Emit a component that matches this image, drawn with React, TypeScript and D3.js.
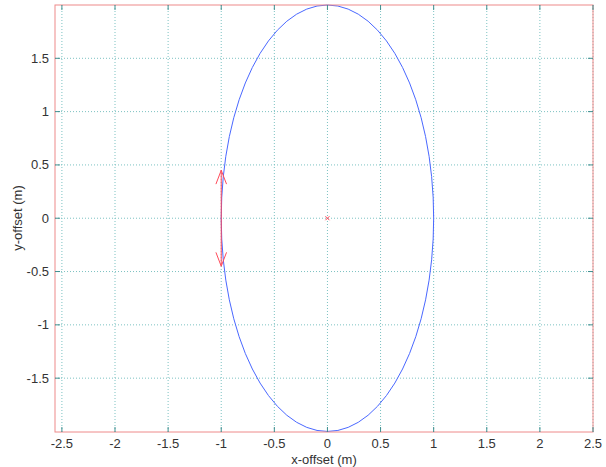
import React, {useEffect, useRef} from 'react'
import * as d3 from 'd3'

const xTicks = [-2.5, -2, -1.5, -1, -0.5, 0, 0.5, 1, 1.5, 2, 2.5]
const yTicks = [-1.5, -1, -0.5, 0, 0.5, 1, 1.5]
const xDomain = [-2.565, 2.5]
const yDomain = [-2.005, 2.0]

// ellipse: centre, semi-axes
const ellipseCenter = [0, 0]
const ellipseRadii = [1, 2]

// quiver arrows [x0, y0, x1, y1]
const arrows = [
  [-1, 0, -1, 0.45],
  [-1, 0, -1, -0.45],
]
const centreMark = [0, 0]

export default function App() {
  const ref = useRef<SVGSVGElement>(null)

  useEffect(() => {
    const width = 606
    const height = 467
    const left = 55
    const right = 593
    const top = 5
    const bottom = 432

    const svg = d3.select(ref.current)
    svg.selectAll('*').remove()
    svg.attr('width', width).attr('height', height)

    const x = d3.scaleLinear().domain(xDomain).range([left, right])
    const y = d3.scaleLinear().domain(yDomain).range([bottom, top])

    const g = svg.append('g')

    // grid
    g.selectAll('line.vgrid')
      .data(xTicks)
      .enter()
      .append('line')
      .attr('class', 'vgrid')
      .attr('x1', (d) => x(d))
      .attr('x2', (d) => x(d))
      .attr('y1', top)
      .attr('y2', bottom)
      .attr('stroke', '#7cc2c2')
      .attr('stroke-width', 1)
      .attr('stroke-dasharray', '1,2')
    g.selectAll('line.hgrid')
      .data(yTicks)
      .enter()
      .append('line')
      .attr('class', 'hgrid')
      .attr('x1', left)
      .attr('x2', right)
      .attr('y1', (d) => y(d))
      .attr('y2', (d) => y(d))
      .attr('stroke', '#7cc2c2')
      .attr('stroke-width', 1)
      .attr('stroke-dasharray', '1,2')

    // ellipse
    g.append('ellipse')
      .attr('cx', x(ellipseCenter[0]))
      .attr('cy', y(ellipseCenter[1]))
      .attr('rx', x(ellipseRadii[0]) - x(0))
      .attr('ry', y(0) - y(ellipseRadii[1]))
      .attr('fill', 'none')
      .attr('stroke', '#4a68ff')
      .attr('stroke-width', 1)

    // arrows
    const headLen = 0.13
    const headW = 0.05
    arrows.forEach(([x0, y0, x1, y1]) => {
      const dir = Math.sign(y1 - y0)
      const line = d3.line<number[]>()
        .x((p) => x(p[0]))
        .y((p) => y(p[1]))
      g.append('path')
        .attr('d', line([[x0, y0], [x1, y1]]))
        .attr('stroke', '#ff4a5a')
        .attr('fill', 'none')
        .attr('stroke-width', 1)
      g.append('path')
        .attr('d', line([
          [x1 - headW, y1 - dir * headLen],
          [x1, y1],
          [x1 + headW, y1 - dir * headLen],
        ]))
        .attr('stroke', '#ff4a5a')
        .attr('fill', 'none')
        .attr('stroke-width', 1)
    })

    // centre mark
    const cx = x(centreMark[0])
    const cy = y(centreMark[1])
    g.append('path')
      .attr('d', `M${cx - 2},${cy - 2}L${cx + 2},${cy + 2}M${cx - 2},${cy + 2}L${cx + 2},${cy - 2}`)
      .attr('stroke', '#ff4a5a')
      .attr('stroke-width', 1)

    // box
    g.append('rect')
      .attr('x', left)
      .attr('y', top)
      .attr('width', right - left)
      .attr('height', bottom - top)
      .attr('fill', 'none')
      .attr('stroke', '#ee8a8a')
      .attr('stroke-width', 1)

    // ticks (inward)
    const tl = 5
    const tickColor = '#3f8f8f'
    xTicks.forEach((t) => {
      g.append('line')
        .attr('x1', x(t)).attr('x2', x(t))
        .attr('y1', bottom).attr('y2', bottom - tl)
        .attr('stroke', tickColor)
      g.append('line')
        .attr('x1', x(t)).attr('x2', x(t))
        .attr('y1', top).attr('y2', top + tl)
        .attr('stroke', tickColor)
    })
    yTicks.forEach((t) => {
      g.append('line')
        .attr('x1', left).attr('x2', left + tl)
        .attr('y1', y(t)).attr('y2', y(t))
        .attr('stroke', tickColor)
      g.append('line')
        .attr('x1', right).attr('x2', right - tl)
        .attr('y1', y(t)).attr('y2', y(t))
        .attr('stroke', tickColor)
    })

    const font = 'Liberation Sans, Arial, sans-serif'
    g.selectAll('text.xt')
      .data(xTicks)
      .enter()
      .append('text')
      .attr('class', 'xt')
      .attr('x', (d) => x(d))
      .attr('y', bottom + 16)
      .attr('text-anchor', 'middle')
      .style('font-family', font)
      .style('font-size', '13px')
      .style('fill', '#333')
      .text((d) => String(d))
    g.selectAll('text.yt')
      .data(yTicks)
      .enter()
      .append('text')
      .attr('class', 'yt')
      .attr('x', left - 6)
      .attr('y', (d) => y(d))
      .attr('dy', '0.35em')
      .attr('text-anchor', 'end')
      .style('font-family', font)
      .style('font-size', '13px')
      .style('fill', '#333')
      .text((d) => String(d))

    g.append('text')
      .attr('x', 324)
      .attr('y', 464)
      .attr('text-anchor', 'middle')
      .style('font-family', font)
      .style('font-size', '13px')
      .style('fill', '#333')
      .text('x-offset (m)')
    g.append('text')
      .attr('transform', `translate(22, 218) rotate(-90)`)
      .attr('text-anchor', 'middle')
      .style('font-family', font)
      .style('font-size', '13px')
      .style('fill', '#333')
      .text('y-offset (m)')
  }, [])

  return (
    <div style={{position: 'absolute', left: 0, top: 0, background: '#fff'}}>
      <svg ref={ref} />
    </div>
  )
}
